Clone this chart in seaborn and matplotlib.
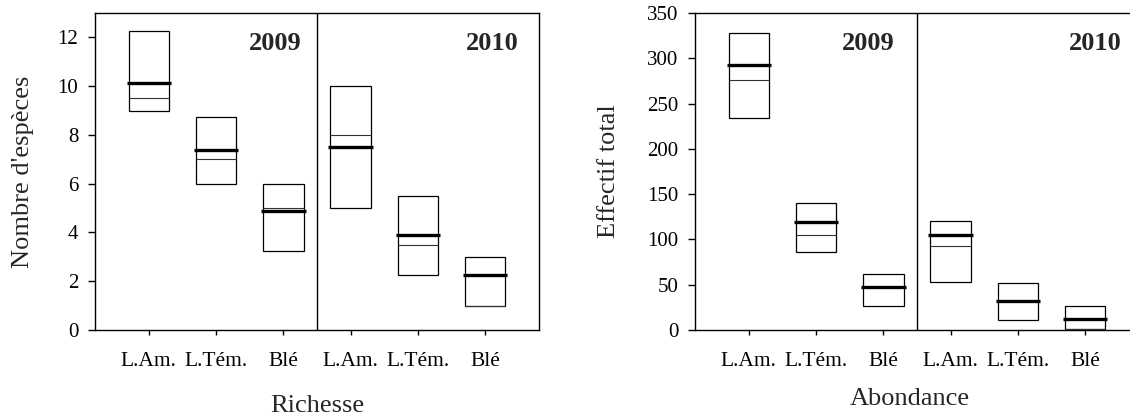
import numpy as np
import pandas as pd
import matplotlib
matplotlib.use("Agg")
import matplotlib.pyplot as plt
import seaborn as sns

# ─────────────────────────────────────────────────────────────────────────────
#  Data
# ─────────────────────────────────────────────────────────────────────────────
categories = ["L.Am.", "L.Tém.", "Blé", "L.Am.", "L.Tém.", "Blé"]
years = ["2009", "2009", "2009", "2010", "2010", "2010"]

# Richesse : nombre d'espèces
rich_q1     = [9.0, 6.0, 3.25, 5.0, 2.25, 1.0]
rich_q3     = [12.25, 8.75, 6.0, 10.0, 5.5, 3.0]
rich_median = [9.5, 7.0, 5.0, 8.0, 3.5, 1.0]
rich_mean   = [10.13, 7.38, 4.88, 7.5, 3.88, 2.25]

# Abondance : effectif total
abon_q1     = [234, 86, 26, 53, 11, 1]
abon_q3     = [328, 140, 62, 120, 52, 26]
abon_median = [276, 105, 47, 93, 32, 1]
abon_mean   = [293, 119, 48, 105, 32, 12.5]

sns.set_style("ticks")
plt.rcParams["font.family"] = ["Liberation Serif", "DejaVu Serif"]
plt.rcParams["axes.edgecolor"] = "black"
plt.rcParams["axes.linewidth"] = 1.0

W, H = 1130, 419
BOX_W = 0.6


def draw_panel(ax, q1, q3, median, mean, ymax, yticks, ylabel, xlabel,
               ylab_x, xlab_pos, year_x):
    df = pd.DataFrame({
        "pos": np.arange(len(categories)),
        "q1": q1, "q3": q3, "median": median, "mean": mean,
    })
    df["height"] = df["q3"] - df["q1"]

    # floating boxes q1 -> q3
    sns.barplot(data=df, x="pos", y="height", bottom=df["q1"].to_numpy(),
                width=BOX_W, color="white", edgecolor="black", linewidth=0.9,
                errorbar=None, ax=ax)

    # thin line = median, thick line = mean
    pos = df["pos"].to_numpy()
    ax.hlines(df["median"], pos - BOX_W / 2, pos + BOX_W / 2,
              color="#333333", linewidth=0.8, zorder=3)
    ax.hlines(df["mean"], pos - BOX_W / 2 - 0.03, pos + BOX_W / 2 + 0.03,
              color="black", linewidth=2.4, zorder=4)

    ax.axvline(2.5, color="black", linewidth=1.0)

    ax.set_xlim(-0.8, 5.8)
    ax.set_ylim(0, ymax)
    ax.set_yticks(yticks)
    ax.set_xticks(pos)
    ax.set_xticklabels(categories)

    ax.tick_params(axis="x", direction="out", length=3.6, width=1, pad=12,
                   labelsize=15.5, colors="black")
    ax.tick_params(axis="y", direction="out", length=5, width=1, pad=7,
                   labelsize=15, colors="black")

    ax.set_ylabel(ylabel, fontsize=19, va="center")
    ax.yaxis.set_label_coords(ylab_x, 0.5)
    ax.set_xlabel(xlabel, fontsize=19, va="center")
    ax.xaxis.set_label_coords(*xlab_pos)

    for x, yr in zip(year_x, ["2009", "2010"]):
        ax.text(x, 0.905, yr, transform=ax.transAxes, ha="right", va="center",
                fontsize=19, fontweight="bold")


fig = plt.figure(figsize=(W / 100, H / 100), dpi=100)
ax1 = fig.add_axes([95 / W, 89 / H, 444 / W, 317 / H])
ax2 = fig.add_axes([695 / W, 89 / H, 444 / W, 317 / H])

draw_panel(ax1, rich_q1, rich_q3, rich_median, rich_mean,
           13, range(0, 13, 2), "Nombre d'espèces", "Richesse",
           -0.162, (0.5, -0.24), (0.466, 0.954))
draw_panel(ax2, abon_q1, abon_q3, abon_median, abon_mean,
           350, range(0, 351, 50), "Effectif total", "Abondance",
           -0.194, (0.484, -0.218), (0.449, 0.961))

fig.savefig("out.png", dpi=100)
